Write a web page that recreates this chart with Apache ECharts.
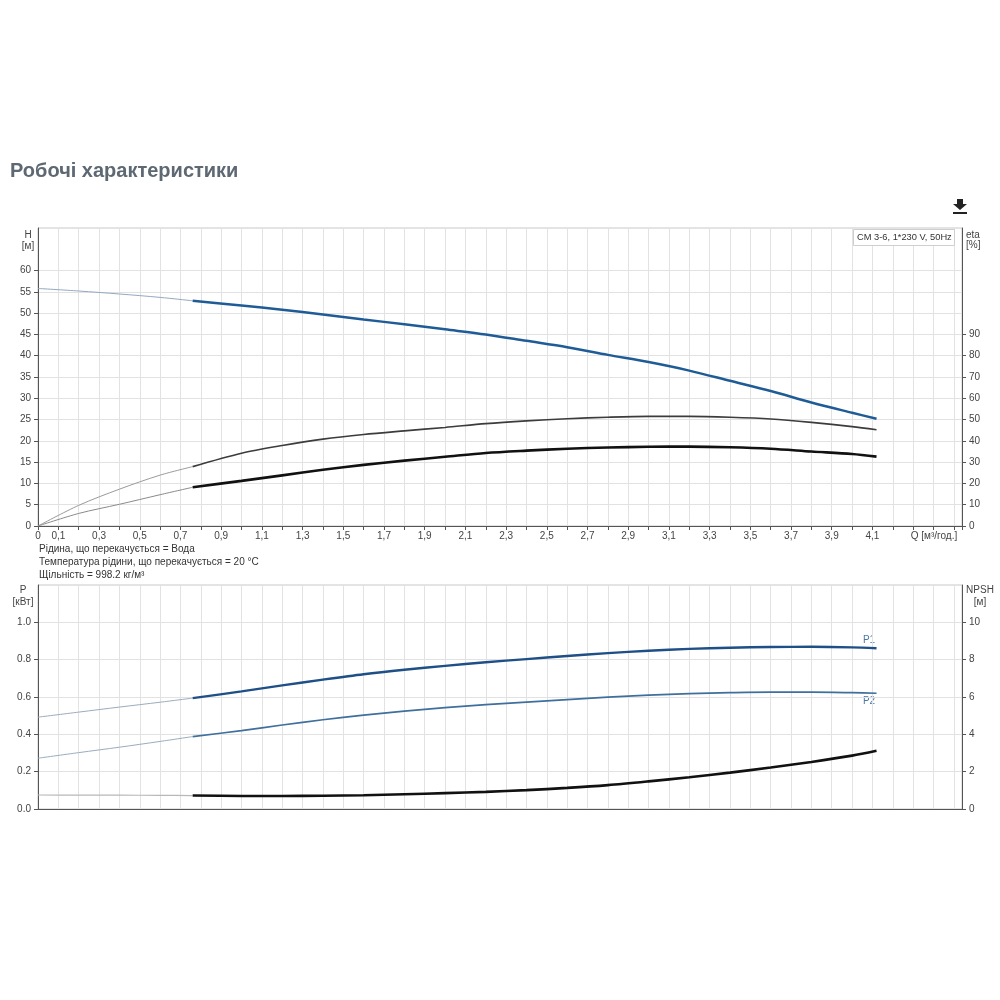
<!DOCTYPE html>
<html>
<head>
<meta charset="utf-8">
<script src="https://cdn.jsdelivr.net/npm/echarts@6/dist/echarts.min.js"></script>
<style>html,body{margin:0;padding:0;background:#fff}#c{width:1000px;height:1000px}</style>
</head>
<body>
<div id="c"></div>
<script>
// ---- data ----
var qLow = [0, 0.2, 0.4, 0.6, 0.76];
var qMain = [0.76, 1.0, 1.2, 1.4, 1.6, 1.8, 2.0, 2.2, 2.4, 2.6, 2.8, 3.0, 3.2, 3.4, 3.6, 3.8, 4.0, 4.12];

var headLow = [55.8, 55.2, 54.5, 53.7, 52.9];
var headMain = [52.9, 51.8, 50.8, 49.7, 48.5, 47.4, 46.2, 45.0, 43.5, 42.0, 40.2, 38.5, 36.5, 34.1, 31.7, 29.0, 26.6, 25.2];

var etaPumpLow = [0, 9.7, 17.3, 23.9, 27.9];
var etaPumpMain = [27.9, 34.2, 37.8, 40.8, 43.0, 44.7, 46.3, 48.1, 49.4, 50.4, 51.1, 51.5, 51.5, 51.1, 50.3, 48.7, 46.7, 45.2];

var etaTotLow = [0, 5.9, 10.2, 14.7, 18.2];
var etaTotMain = [18.2, 21.2, 23.8, 26.4, 28.7, 30.7, 32.5, 34.3, 35.4, 36.3, 36.9, 37.2, 37.3, 37.0, 36.3, 35.0, 33.8, 32.6];

var p1Low = [0.492, 0.519, 0.546, 0.572, 0.594];
var p1Main = [0.594, 0.630, 0.662, 0.693, 0.722, 0.746, 0.767, 0.786, 0.803, 0.820, 0.835, 0.848, 0.858, 0.864, 0.868, 0.869, 0.866, 0.861];

var p2Low = [0.272, 0.302, 0.331, 0.362, 0.388];
var p2Main = [0.388, 0.420, 0.450, 0.478, 0.503, 0.524, 0.543, 0.559, 0.573, 0.586, 0.599, 0.610, 0.618, 0.623, 0.626, 0.626, 0.623, 0.620];

var npshLow = [0.75, 0.745, 0.74, 0.73, 0.72];
var npshMain = [0.72, 0.70, 0.70, 0.71, 0.74, 0.79, 0.85, 0.92, 1.01, 1.13, 1.28, 1.48, 1.70, 1.95, 2.22, 2.52, 2.86, 3.12];

var qTickLabels = [0, 0.1, 0.3, 0.5, 0.7, 0.9, 1.1, 1.3, 1.5, 1.7, 1.9, 2.1, 2.3, 2.5, 2.7, 2.9, 3.1, 3.3, 3.5, 3.7, 3.9, 4.1];
var hTickLabels = [0, 5, 10, 15, 20, 25, 30, 35, 40, 45, 50, 55, 60];
var etaTickLabels = [0, 10, 20, 30, 40, 50, 60, 70, 80, 90];
var pTickLabels = [0, 0.2, 0.4, 0.6, 0.8, 1.0];
var npshTickLabels = [0, 2, 4, 6, 8, 10];

var titleText = 'Робочі характеристики';
var pumpName = 'CM 3-6, 1*230 V, 50Hz';
var notes = ['Рідина, що перекачується = Вода', 'Температура рідини, що перекачується = 20 °C', 'Щільність = 998.2 кг/м³'];

// ---- helpers ----
function pairs(xs, ys) { return xs.map(function (x, i) { return [x, ys[i]]; }); }
var FONT = '"Liberation Sans", Arial, sans-serif';
var labelStyle = { fontFamily: FONT, fontSize: 10, color: '#444' };
var gridLine = { show: true, lineStyle: { color: '#e2e2e2', width: 1 } };

function xAx(gi, showLabels) {
  return {
    type: 'value', gridIndex: gi, min: 0, max: 4.54, interval: 0.1,
    axisLine: { show: true, onZero: false, lineStyle: { color: '#555' } },
    axisTick: { show: showLabels, length: 4, lineStyle: { color: '#555' } },
    axisLabel: showLabels ? Object.assign({
      show: true, margin: 5, customValues: qTickLabels,
      formatter: function (v) { return v === 0 ? '0' : v.toFixed(1).replace('.', ','); }
    }, labelStyle) : { show: false },
    splitLine: gridLine
  };
}

function yAx(gi, pos, max, interval, labels, fmt, split) {
  return {
    type: 'value', gridIndex: gi, position: pos, min: 0, max: max, interval: interval,
    axisLine: { show: true, onZero: false, lineStyle: { color: '#555' } },
    axisTick: { show: true, length: 4, customValues: labels, lineStyle: { color: '#555' } },
    axisLabel: Object.assign({ show: true, margin: 7, customValues: labels, formatter: fmt }, labelStyle),
    splitLine: split ? gridLine : { show: false }
  };
}

function line(name, xi, yi, data, color, width) {
  return {
    name: name, type: 'line', xAxisIndex: xi, yAxisIndex: yi, data: data,
    showSymbol: false, smooth: 0.3, silent: true,
    lineStyle: { color: color, width: width }
  };
}

var chart = echarts.init(document.getElementById('c'), null, { renderer: 'canvas' });
chart.setOption({
  animation: false,
  backgroundColor: '#fff',
  grid: [
    { left: 38, top: 228, width: 924, height: 298, show: true, borderColor: '#c8c8c8', borderWidth: 1, backgroundColor: 'transparent' },
    { left: 38, top: 585, width: 924, height: 224, show: true, borderColor: '#c8c8c8', borderWidth: 1, backgroundColor: 'transparent' }
  ],
  xAxis: [xAx(0, true), xAx(1, false)],
  yAxis: [
    yAx(0, 'left', 70, 5, hTickLabels, function (v) { return String(v); }, true),
    yAx(0, 'right', 140, 10, etaTickLabels, function (v) { return String(v); }, false),
    yAx(1, 'left', 1.2, 0.2, pTickLabels, function (v) { return v.toFixed(1); }, true),
    yAx(1, 'right', 12, 2, npshTickLabels, function (v) { return String(v); }, false)
  ],
  series: [
    line('H low', 0, 0, pairs(qLow, headLow), '#93a9c0', 1),
    line('H', 0, 0, pairs(qMain, headMain), '#1f5c97', 2.5),
    line('eta pump low', 0, 1, pairs(qLow, etaPumpLow), '#9a9a9a', 1),
    line('eta pump', 0, 1, pairs(qMain, etaPumpMain), '#3c3c3c', 1.6),
    line('eta total low', 0, 1, pairs(qLow, etaTotLow), '#8a8a8a', 1),
    line('eta total', 0, 1, pairs(qMain, etaTotMain), '#111111', 2.6),
    line('P1 low', 1, 2, pairs(qLow, p1Low), '#9aacbf', 1),
    line('P1', 1, 2, pairs(qMain, p1Main), '#1e4f86', 2.4),
    line('P2 low', 1, 2, pairs(qLow, p2Low), '#9aacbf', 1),
    line('P2', 1, 2, pairs(qMain, p2Main), '#3f6f9c', 1.7),
    line('NPSH low', 1, 3, pairs(qLow, npshLow), '#b8b8b8', 1.2),
    line('NPSH', 1, 3, pairs(qMain, npshMain), '#111111', 2.6)
  ],
  graphic: [
    { type: 'text', x: 10, y: 171, style: { text: titleText, font: 'bold 20px ' + FONT, fill: '#5d6873', textVerticalAlign: 'middle' } },
    // download icon
    { type: 'polygon', shape: { points: [[957, 199], [963, 199], [963, 204], [967, 204], [960, 210], [953, 204], [957, 204]] }, style: { fill: '#222' } },
    { type: 'rect', shape: { x: 953, y: 212, width: 14, height: 2 }, style: { fill: '#222' } },
    // pump box
    { type: 'rect', z: 50, shape: { x: 853.5, y: 229.5, width: 101, height: 16 }, style: { fill: '#fff', stroke: '#cfcfcf', lineWidth: 1 } },
    { type: 'text', z: 51, x: 857, y: 237.5, style: { text: pumpName, font: '9.3px ' + FONT, fill: '#333', textVerticalAlign: 'middle' } },
    // axis titles
    { type: 'text', x: 28, y: 235, style: { text: 'H', font: '10px ' + FONT, fill: '#444', textAlign: 'center', textVerticalAlign: 'middle' } },
    { type: 'text', x: 28, y: 246, style: { text: '[м]', font: '10px ' + FONT, fill: '#444', textAlign: 'center', textVerticalAlign: 'middle' } },
    { type: 'text', x: 966, y: 235, style: { text: 'eta', font: '10px ' + FONT, fill: '#444', textVerticalAlign: 'middle' } },
    { type: 'text', x: 966, y: 245, style: { text: '[%]', font: '10px ' + FONT, fill: '#444', textVerticalAlign: 'middle' } },
    { type: 'text', x: 934, y: 536, style: { text: 'Q [м³/год.]', font: '10px ' + FONT, fill: '#444', textAlign: 'center', textVerticalAlign: 'middle' } },
    { type: 'text', x: 23, y: 590, style: { text: 'P', font: '10px ' + FONT, fill: '#444', textAlign: 'center', textVerticalAlign: 'middle' } },
    { type: 'text', x: 23, y: 602, style: { text: '[кВт]', font: '10px ' + FONT, fill: '#444', textAlign: 'center', textVerticalAlign: 'middle' } },
    { type: 'text', x: 980, y: 590, style: { text: 'NPSH', font: '10px ' + FONT, fill: '#444', textAlign: 'center', textVerticalAlign: 'middle' } },
    { type: 'text', x: 980, y: 602, style: { text: '[м]', font: '10px ' + FONT, fill: '#444', textAlign: 'center', textVerticalAlign: 'middle' } },
    // notes
    { type: 'text', x: 39, y: 549, style: { text: notes[0], font: '10px ' + FONT, fill: '#333', textVerticalAlign: 'middle' } },
    { type: 'text', x: 39, y: 562, style: { text: notes[1], font: '10px ' + FONT, fill: '#333', textVerticalAlign: 'middle' } },
    { type: 'text', x: 39, y: 575, style: { text: notes[2], font: '10px ' + FONT, fill: '#333', textVerticalAlign: 'middle' } },
    // curve labels
    { type: 'text', x: 869, y: 640, style: { text: 'P1', font: '10px ' + FONT, fill: '#4a78a3', textAlign: 'center', textVerticalAlign: 'middle' } },
    { type: 'text', x: 869, y: 701, style: { text: 'P2', font: '10px ' + FONT, fill: '#4a78a3', textAlign: 'center', textVerticalAlign: 'middle' } }
  ]
});
</script>
</body>
</html>
